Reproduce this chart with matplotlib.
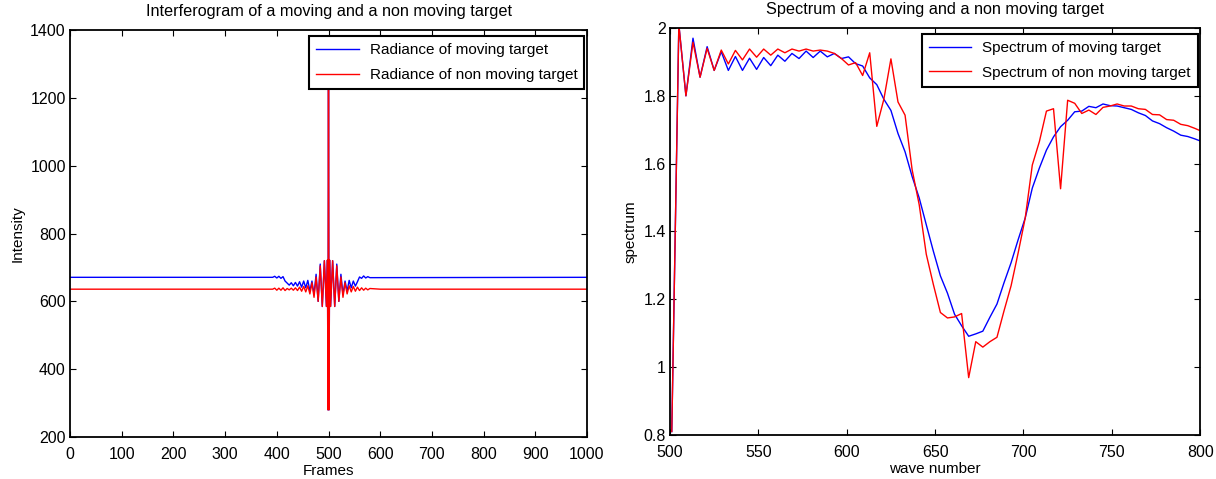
import numpy as np
import matplotlib
matplotlib.use('Agg')
import matplotlib.pyplot as plt

plt.rcParams['font.family'] = ['Liberation Sans', 'DejaVu Sans']

# interferogram (vertices)
frames_moving = [0, 392, 396, 400, 404, 408, 412, 416, 420, 424, 428, 432, 436, 440, 444,
                 448, 452, 456, 460, 464, 468, 472, 476, 480, 484, 488, 492, 496, 498,
                 499, 500, 501, 502, 504, 508, 512, 516, 520, 524, 528, 532, 536, 540,
                 544, 548, 552, 556, 560, 564, 568, 572, 576, 580, 1000]
radiance_moving = [671, 671, 674, 669, 674, 668, 673, 660, 654, 648, 655, 646, 656, 645, 658,
                   642, 660, 640, 662, 630, 660, 620, 680, 600, 710, 585, 720, 585, 722,
                   280, 1350, 280, 722, 585, 720, 585, 710, 600, 680, 620, 660, 630, 662,
                   640, 660, 645, 658, 672, 668, 675, 669, 673, 670, 671]

frames_static = [0, 392, 396, 400, 404, 408, 412, 416, 420, 424, 428, 432, 436, 440, 444,
                 448, 452, 456, 460, 464, 468, 472, 476, 480, 484, 488, 492, 496, 498,
                 499, 500, 501, 502, 504, 508, 512, 516, 520, 524, 528, 532, 536, 540,
                 544, 548, 552, 556, 560, 564, 568, 572, 576, 580, 600, 1000]
radiance_static = [636, 636, 639, 633, 639, 633, 640, 632, 638, 634, 639, 633, 640, 632, 642,
                   630, 644, 628, 646, 622, 655, 612, 672, 600, 705, 585, 720, 585, 722,
                   280, 1350, 280, 722, 585, 720, 585, 705, 600, 672, 612, 655, 622, 646,
                   628, 644, 630, 642, 632, 640, 633, 639, 634, 638, 636, 636]

# spectrum
wave_number = [501, 505, 509, 513, 517, 521, 525, 529, 533, 537, 541, 545, 549, 553, 557,
               561, 565, 569, 573, 577, 581, 585, 589, 593, 597, 601, 605, 609, 613, 617,
               621, 625, 629, 633, 637, 641, 645, 649, 653, 657, 661, 665, 669, 673, 677,
               681, 685, 689, 693, 697, 701, 705, 709, 713, 717, 721, 725, 729, 733, 737,
               741, 745, 749, 753, 757, 761, 765, 769, 773, 777, 781, 785, 789, 793, 797, 801]
spec_moving = [0.81, 2.01, 1.80, 1.97, 1.855, 1.945, 1.875, 1.93, 1.875, 1.916, 1.875, 1.911,
               1.878, 1.913, 1.889, 1.92, 1.902, 1.925, 1.91, 1.932, 1.913, 1.932, 1.915,
               1.925, 1.91, 1.915, 1.895, 1.888, 1.853, 1.833, 1.79, 1.757, 1.689, 1.635,
               1.562, 1.499, 1.42, 1.342, 1.269, 1.218, 1.156, 1.122, 1.091, 1.098, 1.106,
               1.147, 1.186, 1.249, 1.308, 1.376, 1.44, 1.528, 1.587, 1.64, 1.679, 1.709,
               1.728, 1.753, 1.755, 1.769, 1.765, 1.776, 1.771, 1.77, 1.765, 1.76, 1.75,
               1.742, 1.726, 1.718, 1.706, 1.696, 1.684, 1.68, 1.673, 1.665]
spec_static = [0.81, 2.01, 1.80, 1.958, 1.855, 1.94, 1.875, 1.935, 1.894, 1.934, 1.906, 1.938,
               1.914, 1.938, 1.92, 1.938, 1.927, 1.938, 1.932, 1.938, 1.932, 1.935, 1.932,
               1.925, 1.91, 1.891, 1.898, 1.86, 1.927, 1.71, 1.79, 1.909, 1.782, 1.743,
               1.582, 1.479, 1.333, 1.244, 1.161, 1.145, 1.148, 1.158, 0.969, 1.075, 1.059,
               1.075, 1.088, 1.166, 1.24, 1.337, 1.44, 1.596, 1.665, 1.755, 1.762, 1.526,
               1.787, 1.778, 1.748, 1.758, 1.745, 1.766, 1.77, 1.776, 1.77, 1.77, 1.762,
               1.76, 1.745, 1.744, 1.73, 1.728, 1.716, 1.712, 1.704, 1.695]

fig = plt.figure(figsize=(12.16, 4.79), dpi=100)
ax1 = fig.add_axes([0.0576, 0.0877, 0.4251, 0.8493])
ax2 = fig.add_axes([0.551, 0.092, 0.436, 0.8495])

ax1.plot(frames_moving, radiance_moving, color='#0000ff', lw=1.0, label='Radiance of moving target')
ax1.plot(frames_static, radiance_static, color='#ff0000', lw=1.0, label='Radiance of non moving target')
ax1.set_xlim(0, 1000)
ax1.set_ylim(200, 1400)
ax1.set_xticks(np.arange(0, 1001, 100))
ax1.set_yticks(np.arange(200, 1401, 200))
ax1.set_title('Interferogram of a moving and a non moving target', fontsize=11.7, pad=10)
ax1.set_xlabel('Frames', fontsize=11, labelpad=2)
ax1.set_ylabel('Intensity', fontsize=11, labelpad=4)

ax2.plot(wave_number, spec_moving, color='#0000ff', lw=1.0, label='Spectrum of moving target')
ax2.plot(wave_number, spec_static, color='#ff0000', lw=1.0, label='Spectrum of non moving target')
ax2.set_xlim(500, 800)
ax2.set_ylim(0.8, 2.0)
ax2.set_xticks(np.arange(500, 801, 50))
ax2.set_yticks([0.8, 1.0, 1.2, 1.4, 1.6, 1.8, 2.0])
ax2.set_yticklabels(['0.8', '1', '1.2', '1.4', '1.6', '1.8', '2'])
ax2.set_title('Spectrum of a moving and a non moving target', fontsize=11.7, pad=10)
ax2.set_xlabel('wave number', fontsize=11, labelpad=2)
ax2.set_ylabel('spectrum', fontsize=11, labelpad=4)

for ax in (ax1, ax2):
    ax.tick_params(direction='in', top=True, right=True, length=4, width=0.8,
                   labelsize=11.5)
    ax.tick_params(axis='x', pad=7)
    ax.tick_params(axis='y', pad=3)
    for s in ax.spines.values():
        s.set_linewidth(1.3)
    leg = ax.legend(loc='upper right', bbox_to_anchor=(0.995, 0.985), fontsize=11,
                    fancybox=False, framealpha=1, edgecolor='black', borderaxespad=0,
                    handlelength=2.8, handletextpad=0.7, borderpad=0.45, labelspacing=0.7)
    leg.get_frame().set_linewidth(1.5)

fig.savefig('out.png', dpi=100)
